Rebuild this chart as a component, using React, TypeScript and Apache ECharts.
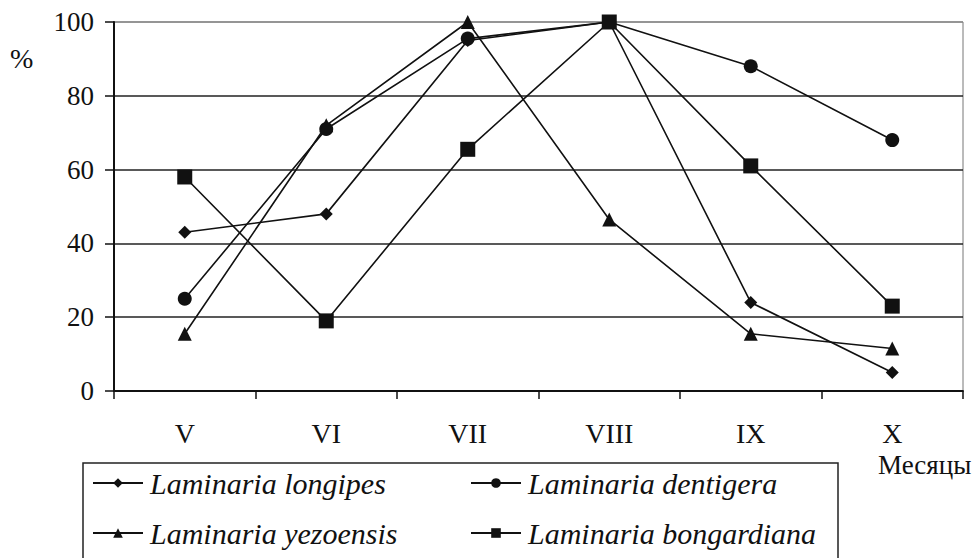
import React, { useEffect, useRef } from "react";
import * as echarts from "echarts";

const months = ["V", "VI", "VII", "VIII", "IX", "X"];
const longipes = [43, 48, 95, 100, 24, 5];
const dentigera = [25, 71, 95.5, 100, 88, 68];
const yezoensis = [15.5, 72, 100, 46.5, 15.5, 11.5];
const bongardiana = [58, 19, 65.5, 100, 61, 23];
const yTicks = { min: 0, max: 100, interval: 20 };

const names = [
  "Laminaria longipes",
  "Laminaria dentigera",
  "Laminaria yezoensis",
  "Laminaria bongardiana",
];

const FONT = "Liberation Serif";

export default function App() {
  const ref = useRef<HTMLDivElement>(null);
  useEffect(() => {
    if (!ref.current) return;
    const chart = echarts.init(ref.current, null, { renderer: "svg" });
    const mk = (name: string, data: number[], symbol: string, size: number) => ({
      name,
      type: "line",
      data,
      symbol,
      symbolSize: size,
      showAllSymbol: true,
      lineStyle: { color: "#111", width: 1.6 },
      itemStyle: { color: "#111" },
      z: 3,
    });
    const legendCommon = {
      orient: "vertical",
      itemWidth: 50,
      itemHeight: 12,
      itemGap: 18,
      padding: 0,
      textStyle: {
        fontFamily: FONT,
        fontStyle: "italic",
        fontSize: 30,
        color: "#111",
        lineHeight: 32,
        padding: [0, 0, 0, 2],
      },
    };
    chart.setOption({
      animation: false,
      backgroundColor: "#fff",
      grid: {
        left: 114,
        right: 16,
        top: 22,
        bottom: 167,
        show: true,
        borderColor: "#777",
        borderWidth: 1,
      },
      legend: [
        { ...legendCommon, left: 92, top: 467, data: [names[0], names[2]] },
        { ...legendCommon, left: 470, top: 467, data: [names[1], names[3]] },
      ],
      graphic: [
        {
          type: "rect",
          shape: { x: 83, y: 463, width: 755, height: 120 },
          style: { fill: "none", stroke: "#222", lineWidth: 1.5 },
        },
        {
          type: "text",
          left: 878,
          top: 451,
          style: { text: "Месяцы", fontFamily: FONT, fontSize: 27, fill: "#111" },
        },
        {
          type: "text",
          left: 10,
          top: 44,
          style: { text: "%", fontFamily: FONT, fontSize: 28, fill: "#111" },
        },
      ],
      xAxis: {
        type: "category",
        data: months,
        boundaryGap: true,
        axisLine: { lineStyle: { color: "#111", width: 1.8 } },
        axisTick: { show: true, inside: false, length: 8, lineStyle: { color: "#111", width: 1.5 } },
        axisLabel: { fontFamily: FONT, fontSize: 28, color: "#111", margin: 28 },
      },
      yAxis: {
        type: "value",
        min: yTicks.min,
        max: yTicks.max,
        interval: yTicks.interval,
        axisLine: { show: true, lineStyle: { color: "#111", width: 2 } },
        axisTick: { show: true, length: 9, lineStyle: { color: "#111", width: 1.5 } },
        axisLabel: { fontFamily: FONT, fontSize: 27, color: "#111", margin: 20 },
        splitLine: {
          show: true,
          lineStyle: { color: ["#222", "#222", "#222", "#222", "#222", "#888"], width: 1.6 },
        },
      },
      series: [
        mk(names[0], longipes, "diamond", 13),
        mk(names[1], dentigera, "circle", 14),
        mk(names[2], yezoensis, "triangle", 14),
        mk(names[3], bongardiana, "rect", 15),
      ],
    });
    return () => chart.dispose();
  }, []);
  return <div ref={ref} style={{ width: 979, height: 558, position: "absolute", left: 0, top: 0 }} />;
}
